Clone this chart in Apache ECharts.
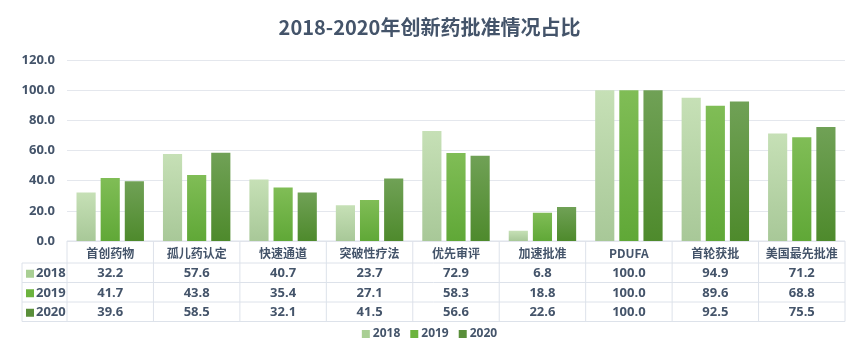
<!DOCTYPE html>
<html><head><meta charset="utf-8">
<script src="https://cdn.jsdelivr.net/npm/echarts@6/dist/echarts.min.js"></script>
<style>html,body{margin:0;padding:0;background:#fff}#c{width:859px;height:358px}</style>
</head><body><div id="c"></div>
<script>
var categories = ['首创药物','孤儿药认定','快速通道','突破性疗法','优先审评','加速批准','PDUFA','首轮获批','美国最先批准'];
var years = ['2018','2019','2020'];
var v2018 = [32.2,57.6,40.7,23.7,72.9,6.8,100.0,94.9,71.2];
var v2019 = [41.7,43.8,35.4,27.1,58.3,18.8,100.0,89.6,68.8];
var v2020 = [39.6,58.5,32.1,41.5,56.6,22.6,100.0,92.5,75.5];
var yTicks = [0,20,40,60,80,100,120];

var values = [v2018, v2019, v2020];
var grads = [['#c6e0b6','#a8c898'],['#80bd56','#60a837'],['#70a156','#4e8a2c']];
var legendCols = ['#a9cf94','#6cb33e','#5a8f3a'];
var textCol = '#44546a';
var lineCol = '#dde2ea';
var FONT = "'Open Sans','Noto Sans CJK SC',sans-serif";
var gridL = 67, gridR = 14, gridT = 60, gridB = 117;

var chart = echarts.init(document.getElementById('c'));
function grad(i){return new echarts.graphic.LinearGradient(0,0,0,1,[{offset:0,color:grads[i][0]},{offset:1,color:grads[i][1]}]);}
var series = years.map(function(y,i){
  return {name:y,type:'bar',data:values[i],barGap:'26%',barCategoryGap:'22%',
    itemStyle:{color:grad(i)},emphasis:{disabled:true}};
});
chart.setOption({
  animation:false,
  title:{text:'2018-2020年创新药批准情况占比',left:'center',top:12,
    textStyle:{fontFamily:"'Noto Sans CJK SC',sans-serif",fontSize:20,fontWeight:'bold',color:textCol}},
  legend:{data:years.map(function(y,i){return {name:y,itemStyle:{color:legendCols[i]}};}),
    bottom:13,left:'center',itemWidth:8,itemHeight:8,itemGap:10,icon:'rect',
    textStyle:{fontFamily:FONT,fontSize:12,fontWeight:'bold',color:textCol,padding:[0,0,0,-2]}},
  grid:{left:gridL,right:gridR,top:gridT,bottom:gridB},
  xAxis:{type:'category',data:categories,axisLine:{show:false},axisTick:{show:false},axisLabel:{show:false}},
  yAxis:{type:'value',min:0,max:120,interval:20,
    axisLabel:{formatter:function(v){return v.toFixed(1);},margin:12,fontFamily:FONT,fontSize:13,fontWeight:'bold',color:textCol},
    splitLine:{lineStyle:{color:'#e4e7ed',width:1}},axisLine:{show:false},axisTick:{show:false}},
  series:series
});

// data table below the plot
var W = chart.getWidth(), H = chart.getHeight();
var x0 = gridL, x1 = W - gridR, yTop = H - gridB;
var headH = 22, rowH = 19.5, labelL = 22;
var n = categories.length, cw = (x1 - x0) / n;
var els = [];
function hline(xa, xb, y){els.push({type:'line',shape:{x1:xa,y1:y,x2:xb,y2:y},style:{stroke:lineCol,lineWidth:1},silent:true});}
function vline(x, ya, yb){els.push({type:'line',shape:{x1:x,y1:ya,x2:x,y2:yb},style:{stroke:lineCol,lineWidth:1},silent:true});}
var yEnd = yTop + headH + rowH*3;
hline(x0, x1, yTop);
for (var r=0;r<=3;r++) hline(labelL, x1, yTop + headH + rowH*r);
vline(labelL, yTop+headH, yEnd);
for (var c=0;c<=n;c++) vline(x0 + cw*c, yTop, yEnd);
for (var c2=0;c2<n;c2++){
  var cx = x0 + cw*(c2+0.5);
  els.push({type:'text',style:{text:categories[c2],x:cx,y:yTop+headH/2+1,align:'center',verticalAlign:'middle',
    font:"bold 12px 'Noto Sans CJK SC',sans-serif",fill:textCol},silent:true});
  for (var r2=0;r2<3;r2++){
    els.push({type:'text',style:{text:values[r2][c2].toFixed(1),x:cx,y:yTop+headH+rowH*(r2+0.5)+1,align:'center',verticalAlign:'middle',
      font:"bold 13px "+FONT,fill:textCol},silent:true});
  }
}
for (var r3=0;r3<3;r3++){
  var yc = yTop+headH+rowH*(r3+0.5)+1;
  els.push({type:'rect',shape:{x:labelL+4,y:yc-4,width:8,height:8},style:{fill:legendCols[r3]},silent:true});
  els.push({type:'text',style:{text:years[r3],x:labelL+14,y:yc,align:'left',verticalAlign:'middle',
    font:"bold 13px "+FONT,fill:textCol},silent:true});
}
chart.setOption({graphic:{elements:els}});
</script></body></html>
